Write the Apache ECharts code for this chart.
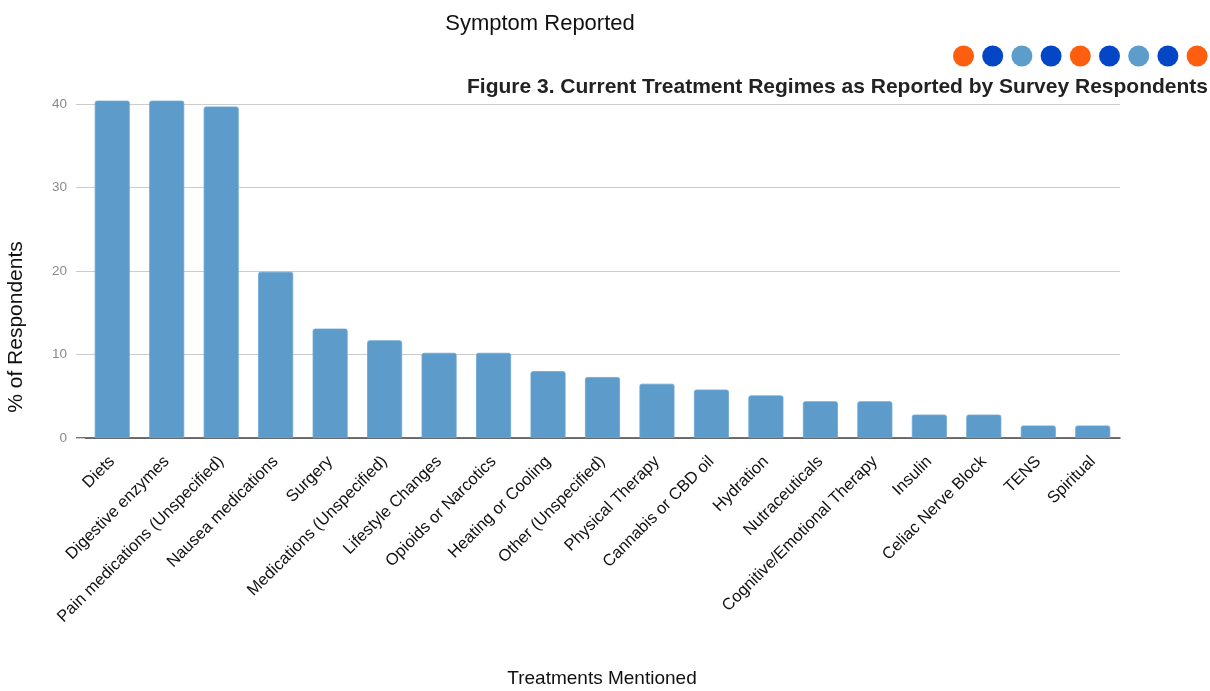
<!DOCTYPE html>
<html>
<head>
<meta charset="utf-8">
<title>Current Treatment Regimes</title>
<script src="https://cdn.jsdelivr.net/npm/echarts@6/dist/echarts.min.js"></script>
<style>
  html, body { margin: 0; padding: 0; background: #ffffff; }
  #chart { width: 1210px; height: 691px; }
</style>
</head>
<body>
<div id="chart"></div>
<script>
// Treatments mentioned by respondents, in descending order
const treatments = [
  'Diets', 'Digestive enzymes', 'Pain medications (Unspecified)', 'Nausea medications',
  'Surgery', 'Medications (Unspecified)', 'Lifestyle Changes', 'Opioids or Narcotics',
  'Heating or Cooling', 'Other (Unspecified)', 'Physical Therapy', 'Cannabis or CBD oil',
  'Hydration', 'Nutraceuticals', 'Cognitive/Emotional Therapy', 'Insulin',
  'Celiac Nerve Block', 'TENS', 'Spiritual'
];

// Share of respondents (%) mentioning each treatment
const respondentsPct = [
  40.4, 40.4, 39.7, 19.9, 13.1, 11.7, 10.2, 10.2, 8.0, 7.3,
  6.5, 5.8, 5.1, 4.4, 4.4, 2.8, 2.8, 1.5, 1.5
];

// Value axis ticks
const yTicks = [0, 10, 20, 30, 40];

// Decorative dot strip colours (left to right)
const dotColors = ['#fe5e10', '#0446c6', '#5c9dcc', '#0446c6', '#fe5e10', '#0446c6', '#5c9dcc', '#0446c6', '#fe5e10'];

const FONT = '"Liberation Sans", Arial, Helvetica, sans-serif';
const BAR_COLOR = '#5c9bca';
const GRID_COLOR = '#cccccc';

const chart = echarts.init(document.getElementById('chart'), null, { renderer: 'canvas' });

const dotGraphics = dotColors.map((c, i) => ({
  type: 'circle',
  shape: { cx: 963.5 + i * 29.2, cy: 56, r: 10.5 },
  style: { fill: c },
  silent: true
}));

const option = {
  backgroundColor: '#ffffff',
  animation: false,
  textStyle: { fontFamily: FONT },
  grid: { left: 85, right: 90, top: 104, bottom: 253, containLabel: false },
  xAxis: {
    type: 'category',
    data: treatments,
    axisLine: { show: true, lineStyle: { color: '#444444', width: 1.5 } },
    axisTick: { show: false },
    axisLabel: {
      rotate: 45,
      interval: 0,
      margin: 21,
      color: '#111111',
      fontSize: 16.5,
      fontFamily: FONT
    }
  },
  yAxis: {
    type: 'value',
    min: yTicks[0],
    max: yTicks[yTicks.length - 1],
    interval: yTicks[1] - yTicks[0],
    axisLine: { show: false },
    axisTick: { show: true, length: 9, lineStyle: { color: GRID_COLOR } },
    splitLine: { show: true, lineStyle: { color: GRID_COLOR, width: 1.2 } },
    axisLabel: { color: '#8a8a8a', fontSize: 13.5, margin: 18, fontFamily: FONT }
  },
  series: [{
    type: 'bar',
    data: respondentsPct,
    barWidth: 35,
    clip: false,
    itemStyle: {
      color: BAR_COLOR,
      borderColor: '#6ba7d3',
      borderWidth: 0.8,
      borderRadius: [2, 2, 0, 0]
    }
  }],
  graphic: [
    {
      type: 'text', x: 540, y: 24,
      style: {
        text: 'Symptom Reported', font: '22px ' + FONT, fill: '#111111',
        align: 'center', verticalAlign: 'middle'
      },
      silent: true
    },
    {
      type: 'text', x: 1208, y: 87,
      style: {
        text: 'Figure 3. Current Treatment Regimes as Reported by Survey Respondents',
        font: 'bold 21px ' + FONT, fill: '#222222',
        align: 'right', verticalAlign: 'middle'
      },
      silent: true
    },
    {
      type: 'text', x: 16, y: 327, rotation: Math.PI / 2,
      style: {
        text: '% of Respondents', font: '21px ' + FONT, fill: '#111111',
        align: 'center', verticalAlign: 'middle'
      },
      silent: true
    },
    {
      type: 'text', x: 602, y: 679,
      style: {
        text: 'Treatments Mentioned', font: '19px ' + FONT, fill: '#111111',
        align: 'center', verticalAlign: 'middle'
      },
      silent: true
    }
  ].concat(dotGraphics)
};

chart.setOption(option);

// Extend the baseline a little to the left of the plot, like the grid ticks
const origin = chart.convertToPixel({ gridIndex: 0 }, [0, 0]);
const left = chart.getModel().getComponent('grid').coordinateSystem.getRect().x;
chart.setOption({
  graphic: option.graphic.concat([{
    type: 'line',
    shape: { x1: left - 9, y1: origin[1], x2: left, y2: origin[1] },
    style: { stroke: '#444444', lineWidth: 1.5 },
    silent: true
  }])
});
</script>
</body>
</html>
